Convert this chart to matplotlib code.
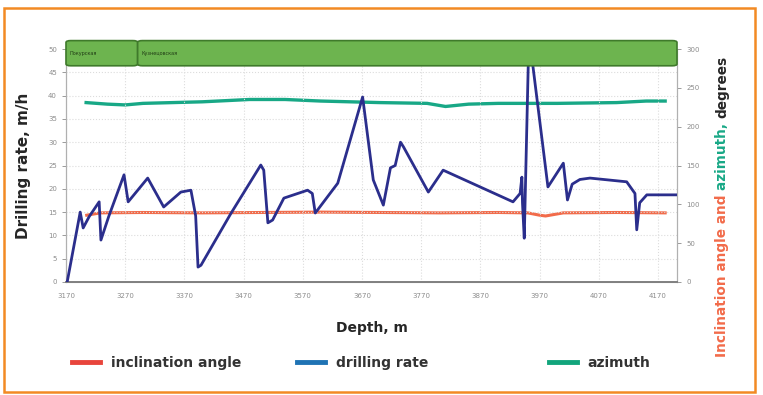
import matplotlib
matplotlib.use('Agg')
import matplotlib.pyplot as plt
from matplotlib.patches import FancyBboxPatch, Rectangle
from matplotlib.lines import Line2D

# drilling rate, m/h vs depth, m
rate_depth = [3172, 3194, 3199, 3209, 3226, 3229, 3242, 3268, 3275, 3308,
              3335, 3364, 3381, 3389, 3393, 3398, 3448, 3499, 3504, 3511,
              3519, 3538, 3578, 3586, 3591, 3629, 3671, 3689, 3706, 3718,
              3726, 3735, 3740, 3782, 3807, 3925, 3937, 3940, 3941, 3944,
              3951, 3957, 3984, 4010, 4017, 4025, 4038, 4055, 4117, 4131,
              4134, 4139, 4151, 4202]
rate = [0, 15, 11.6, 14, 17.2, 9, 14, 23, 17.2, 22.3,
        16.1, 19.3, 19.7, 14.2, 3.2, 3.6, 14.6, 25.1, 24, 12.7,
        13.3, 18, 19.7, 19, 14.8, 21.2, 39.7, 21.9, 16.5, 24.5,
        25, 30, 29, 19.3, 24, 17.2, 19, 22.5, 17, 9.4,
        48, 48, 20.4, 25.5, 17.6, 21, 22, 22.3, 21.5, 19,
        11.2, 17, 18.7, 18.7]

# inclination angle, degrees
incl_depth = [3205, 3228, 3300, 3400, 3500, 3600, 3700, 3800, 3900, 3950,
              3970, 3980, 3995, 4010, 4100, 4182]
incl = [86, 89, 89.5, 89, 89.5, 90, 89.5, 89, 89.5, 89,
        86, 85, 87, 89, 89.5, 89]

# azimuth, degrees
azim_depth = [3204, 3240, 3270, 3300, 3400, 3480, 3540, 3600, 3700, 3780,
              3811, 3850, 3900, 4000, 4100, 4150, 4182]
azim = [231, 229, 228, 230, 232, 235, 235, 233, 231, 230,
        226, 229, 230, 230, 231, 233, 233]

depth_ticks = [3170, 3270, 3370, 3470, 3570, 3670, 3770, 3870, 3970, 4070, 4170]
formations = ['Покурская', 'Кузнецовская']
formation_bounds = [3170, 3291, 4202]

fig = plt.figure(figsize=(7.63, 3.95), dpi=100)
ax = fig.add_axes([66 / 763, 1 - 282 / 395, (677 - 66) / 763, (282 - 49) / 395])
ax2 = ax.twinx()

ax.plot(rate_depth, rate, color='#2b2e8c', lw=2.0, solid_joinstyle='round', zorder=3)
ax2.plot(incl_depth, incl, color='#f26b4a', lw=2.2, zorder=2)
ax2.plot(azim_depth, azim, color='#18a886', lw=2.4, zorder=2)
ax.set_zorder(ax2.get_zorder() + 1)
ax.patch.set_visible(False)

ax.set_xlim(3170, 4202)
ax.set_ylim(0, 50)
ax2.set_ylim(0, 300)
ax.set_xticks(depth_ticks)
ax.set_yticks(range(0, 51, 5))
ax2.set_yticks(range(0, 301, 50))

for a in (ax, ax2):
    a.tick_params(labelsize=5, colors='#8c8c8c', length=3, width=0.6)
    for s in a.spines.values():
        s.set_color('#b0b0b0')
        s.set_linewidth(0.8)
    a.spines['top'].set_visible(False)
ax.spines['bottom'].set_color('#808080')
ax.spines['bottom'].set_linewidth(1.4)
ax.tick_params(axis='x', length=0, pad=8)
ax.grid(True, color='#dcdcdc', ls=':', lw=0.8)

ax.set_xlabel('Depth, m', fontsize=10, fontweight='bold', color='#262626', labelpad=16)
ax.set_ylabel('Drilling rate, m/h', fontsize=11, fontweight='bold', color='#262626', labelpad=12)

# right axis title in three colours, stacked bottom to top
fig.canvas.draw()
renderer = fig.canvas.get_renderer()
rx = 722 / 763
y_px = 357
for part, color in [('Inclination angle and ', '#f26b4a'),
                    ('azimuth, ', '#18a886'),
                    ('degrees', '#262626')]:
    t = fig.text(rx, 1 - y_px / 395, part, rotation=90, fontsize=9.8,
                 color=color, fontweight='bold', ha='center', va='bottom')
    y_px -= t.get_window_extent(renderer).height

# stratigraphy band above the plot
for i, name in enumerate(formations):
    x0, x1 = formation_bounds[i], formation_bounds[i + 1]
    box = FancyBboxPatch((x0, 46.4), x1 - x0, 5.4,
                         boxstyle='round,pad=0,rounding_size=8',
                         mutation_aspect=0.05,
                         fc='#6db44f', ec='#3f7a2b', lw=1.2,
                         transform=ax.transData, clip_on=False, zorder=5)
    ax.add_patch(box)
    ax.text(x0 + 6, 49.1, name, fontsize=3.5, color='#1f3a14',
            va='center', ha='left', zorder=6, clip_on=False)

# legend entries
legend_items = [('inclination angle', '#e8453c', 70),
                ('drilling rate', '#1f73b4', 295),
                ('azimuth', '#12a57c', 547)]
for label, color, xpx in legend_items:
    h = Line2D([], [], color=color, lw=3.5)
    fig.legend([h], [label], loc='center left', frameon=False,
               bbox_to_anchor=(xpx / 763 - 0.014, 1 - 363 / 395),
               prop={'size': 10, 'weight': 'bold'}, handlelength=2.0,
               handletextpad=0.8, labelcolor='#333333')

fig.patches.append(Rectangle((4 / 763, 1 - 392 / 395), 751 / 763, 384 / 395,
                             transform=fig.transFigure, fill=False,
                             ec='#f28a24', lw=1.8))

fig.savefig('out.png', dpi=100)
